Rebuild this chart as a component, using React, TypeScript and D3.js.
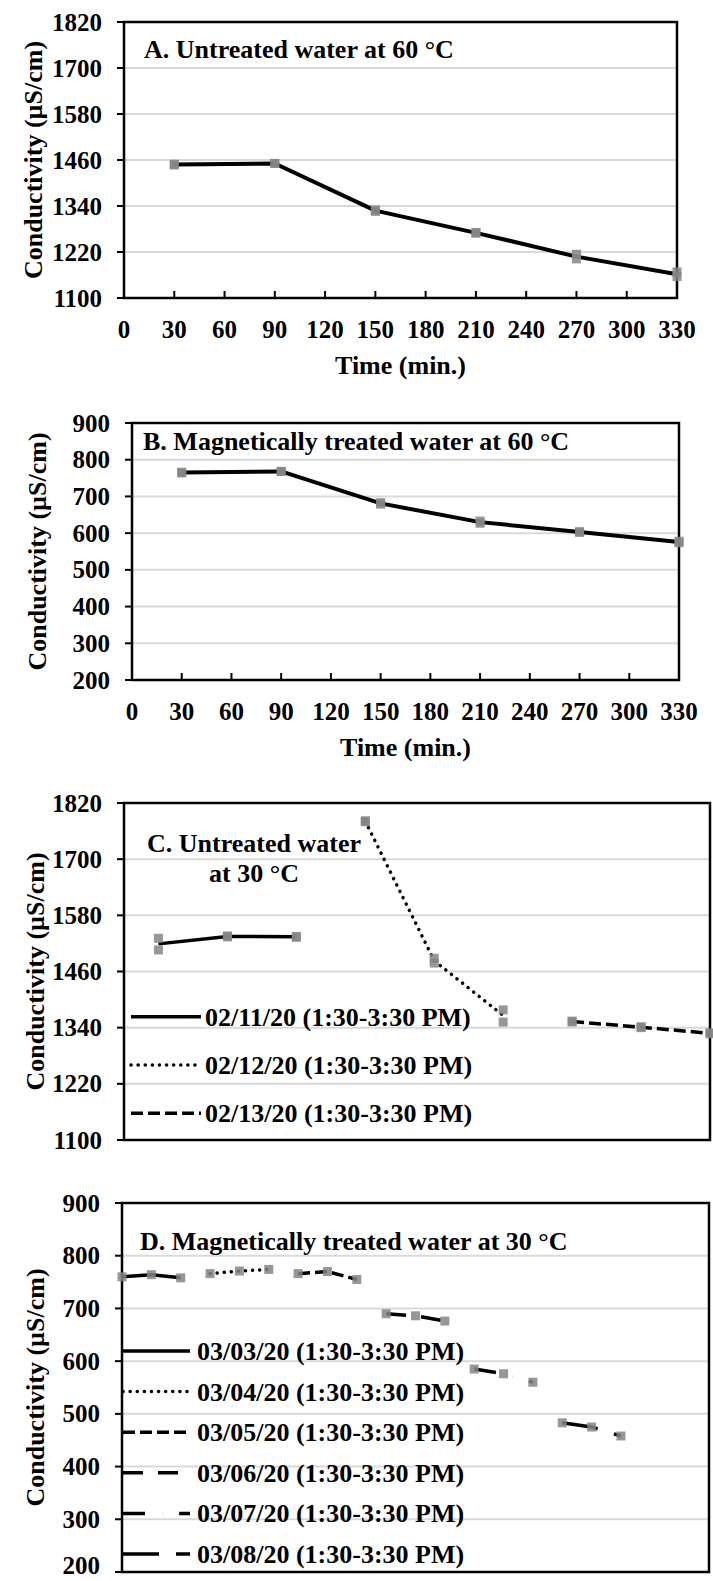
import React from 'react';
import * as d3 from 'd3';

const FONT = '"Liberation Serif","Times New Roman",Times,serif';
const FS = 26;
const TFS = 25;

// ---------- Panel A: untreated water at 60 °C ----------
const timeA = [30, 90, 150, 210, 270, 330];
const meanA = [1448, 1451, 1328, 1270, 1208, 1162];
const repA1 = [1447, 1451, 1326, 1271, 1214, 1168];
const repA2 = [1449, 1451, 1330, 1269, 1202, 1156];
const yTicksA = [1100, 1220, 1340, 1460, 1580, 1700, 1820];
const xTicksTime = [0, 30, 60, 90, 120, 150, 180, 210, 240, 270, 300, 330];

// ---------- Panel B: magnetically treated water at 60 °C ----------
const timeB = [30, 90, 150, 210, 270, 330];
const meanB = [765, 768, 681, 630, 603, 576];
const repB1 = [764, 768, 683, 633, 604, 578];
const repB2 = [766, 768, 679, 627, 602, 574];
const yTicksB = [200, 300, 400, 500, 600, 700, 800, 900];

// ---------- Panel C: untreated water at 30 °C ----------
const labelsC = ['02/11/20 (1:30-3:30 PM)', '02/12/20 (1:30-3:30 PM)', '02/13/20 (1:30-3:30 PM)'];
const idxC1 = [1, 2, 3];
const meanC1 = [1519, 1535, 1534];
const repC1a = [1531, 1536, 1535];
const repC1b = [1506, 1534, 1533];
const idxC2 = [4, 5, 6];
const meanC2 = [1781, 1483, 1366];
const repC2a = [1782, 1488, 1378];
const repC2b = [1780, 1478, 1352];
const idxC3 = [7, 8, 9];
const meanC3 = [1353, 1341, 1328];
const repC3a = [1354, 1342, 1329];
const repC3b = [1352, 1340, 1327];
const yTicksC = [1100, 1220, 1340, 1460, 1580, 1700, 1820];

// ---------- Panel D: magnetically treated water at 30 °C ----------
const labelsD = [
  '03/03/20 (1:30-3:30 PM)', '03/04/20 (1:30-3:30 PM)', '03/05/20 (1:30-3:30 PM)',
  '03/06/20 (1:30-3:30 PM)', '03/07/20 (1:30-3:30 PM)', '03/08/20 (1:30-3:30 PM)',
];
const idxD1 = [0, 1, 2];
const meanD1 = [760, 764, 758];
const idxD2 = [3, 4, 5];
const meanD2 = [766, 771, 774];
const idxD3 = [6, 7, 8];
const meanD3 = [766, 770, 755];
const idxD4 = [9, 10, 11];
const meanD4 = [690, 686, 676];
const idxD5 = [12, 13, 14];
const meanD5 = [585, 576, 560];
const idxD6 = [15, 16, 17];
const meanD6 = [483, 475, 458];
const yTicksD = [200, 300, 400, 500, 600, 700, 800, 900];

// line styles
const dashC = ['', '0.1,7', '12,5'];
const dashD = ['', '0.1,7', '12,5', '20,15', '22,17,0.1,17', '36,17'];

type Box = { x0: number; x1: number; y0: number; y1: number };

const GRID = '#d9d9d9';
const MARK = '#858585';
const H = 1581;

function Frame(props: {
  box: Box;
  y: d3.ScaleLinear<number, number>;
  yTicks: number[];
  x?: d3.ScaleLinear<number, number>;
  xTicks?: number[];
  ytitle: string;
  ytitleX: number;
  xtitle?: string;
}) {
  const { box, y, yTicks, x, xTicks, ytitle, ytitleX, xtitle } = props;
  const cy = (box.y0 + box.y1) / 2;
  return (
    <g>
      {yTicks.slice(1).map((t) => (
        <line key={'g' + t} x1={box.x0} x2={box.x1} y1={y(t)} y2={y(t)} stroke={GRID} strokeWidth={2} />
      ))}
      <rect x={box.x0} y={box.y0} width={box.x1 - box.x0} height={box.y1 - box.y0} fill="none" stroke="#000" strokeWidth={2.5} />
      {yTicks.map((t) => (
        <g key={'t' + t}>
          <line x1={box.x0 - 7} x2={box.x0} y1={y(t)} y2={y(t)} stroke="#000" strokeWidth={2} />
          <text x={box.x0 - 22} y={Math.min(y(t) + 8.5, H - 7)} textAnchor="end" fontSize={TFS} fontWeight="bold" fontFamily={FONT}>
            {t}
          </text>
        </g>
      ))}
      {x && xTicks && xTicks.map((t) => (
        <g key={'x' + t}>
          <line x1={x(t)} x2={x(t)} y1={box.y1 - 7} y2={box.y1} stroke="#000" strokeWidth={2} />
          <text x={x(t)} y={box.y1 + 40} textAnchor="middle" fontSize={TFS} fontWeight="bold" fontFamily={FONT}>
            {t}
          </text>
        </g>
      ))}
      {xtitle && (
        <text x={(box.x0 + box.x1) / 2} y={box.y1 + 76} textAnchor="middle" fontSize={FS} fontWeight="bold" fontFamily={FONT}>
          {xtitle}
        </text>
      )}
      <text transform={`translate(${ytitleX},${cy}) rotate(-90)`} textAnchor="middle" fontSize={FS} fontWeight="bold" fontFamily={FONT}>
        {ytitle}
      </text>
    </g>
  );
}

function Series(props: {
  xs: number[];
  ys: number[];
  reps: number[][];
  x: (v: number) => number;
  y: (v: number) => number;
  dash?: string;
  width?: number;
}) {
  const { xs, ys, reps, x, y, dash, width } = props;
  const pts: [number, number][] = xs.map((v, i) => [v, ys[i]]);
  const gen = d3.line<[number, number]>().x((d) => x(d[0])).y((d) => y(d[1]));
  const round = dash && dash.startsWith('0.1');
  return (
    <g>
      <path
        d={gen(pts) || ''}
        fill="none"
        stroke="#000"
        strokeWidth={width || 3.5}
        strokeDasharray={dash || undefined}
        strokeLinecap={round ? 'round' : 'butt'}
        strokeLinejoin="round"
      />
      {reps.map((r, k) =>
        r.map((v, i) => (
          <rect key={k + '-' + i} x={x(xs[i]) - 4.5} y={y(v) - 4.5} width={9} height={9} fill={MARK} opacity={0.85} />
        ))
      )}
    </g>
  );
}

function Legend(props: { labels: string[]; dashes: string[]; lx0: number; lx1: number; tx: number; ys: number[] }) {
  const { labels, dashes, lx0, lx1, tx, ys } = props;
  return (
    <g>
      {labels.map((lab, i) => (
        <g key={lab}>
          <line
            x1={lx0}
            x2={lx1}
            y1={ys[i]}
            y2={ys[i]}
            stroke="#000"
            strokeWidth={3.5}
            strokeDasharray={dashes[i] || undefined}
            strokeLinecap={dashes[i].startsWith('0.1') ? 'round' : 'butt'}
          />
          <text x={tx} y={ys[i] + 9} fontSize={FS} fontWeight="bold" fontFamily={FONT}>
            {lab}
          </text>
        </g>
      ))}
    </g>
  );
}

export default function App() {
  const W = 713;

  const boxA: Box = { x0: 124, x1: 677, y0: 22, y1: 298 };
  const boxB: Box = { x0: 132, x1: 679, y0: 423, y1: 680 };
  const boxC: Box = { x0: 124, x1: 710, y0: 803, y1: 1140 };
  const boxD: Box = { x0: 122, x1: 709, y0: 1203, y1: 1572 };

  const xA = d3.scaleLinear().domain([0, 330]).range([boxA.x0, boxA.x1]);
  const yA = d3.scaleLinear().domain([1100, 1820]).range([boxA.y1, boxA.y0]);
  const xB = d3.scaleLinear().domain([0, 330]).range([boxB.x0, boxB.x1]);
  const yB = d3.scaleLinear().domain([200, 900]).range([boxB.y1, boxB.y0]);
  const xC = d3.scaleLinear().domain([0.5, 9]).range([boxC.x0, boxC.x1]);
  const yC = d3.scaleLinear().domain([1100, 1820]).range([boxC.y1, boxC.y0]);
  const xD = d3.scaleLinear().domain([0, 20]).range([boxD.x0, boxD.x1]);
  const yD = d3.scaleLinear().domain([200, 900]).range([boxD.y1, boxD.y0]);

  const ytitle = 'Conductivity (µS/cm)';
  const legYC = [1016.7, 1065, 1113.3];
  const legYD = labelsD.map((_, i) => 1351 + i * 40.6);

  return (
    <svg width={W} height={H} viewBox={`0 0 ${W} ${H}`} style={{ position: 'absolute', left: 0, top: 0, background: '#fff' }}>
      <rect x={0} y={0} width={W} height={H} fill="#fff" />

      {/* Panel A */}
      <Frame box={boxA} y={yA} yTicks={yTicksA} x={xA} xTicks={xTicksTime} ytitle={ytitle} ytitleX={42} xtitle="Time (min.)" />
      <text x={144} y={58} fontSize={FS} fontWeight="bold" fontFamily={FONT}>A. Untreated water at 60 °C</text>
      <Series xs={timeA} ys={meanA} reps={[repA1, repA2]} x={xA} y={yA} width={4} />

      {/* Panel B */}
      <Frame box={boxB} y={yB} yTicks={yTicksB} x={xB} xTicks={xTicksTime} ytitle={ytitle} ytitleX={46} xtitle="Time (min.)" />
      <text x={143} y={450} fontSize={FS} fontWeight="bold" fontFamily={FONT}>B. Magnetically treated water at 60 °C</text>
      <Series xs={timeB} ys={meanB} reps={[repB1, repB2]} x={xB} y={yB} width={4} />

      {/* Panel C */}
      <Frame box={boxC} y={yC} yTicks={yTicksC} ytitle={ytitle} ytitleX={44} />
      <text x={254} y={852} textAnchor="middle" fontSize={FS} fontWeight="bold" fontFamily={FONT}>C. Untreated water</text>
      <text x={254} y={882} textAnchor="middle" fontSize={FS} fontWeight="bold" fontFamily={FONT}>at 30 °C</text>
      <Series xs={idxC1} ys={meanC1} reps={[repC1a, repC1b]} x={xC} y={yC} dash={dashC[0]} />
      <Series xs={idxC2} ys={meanC2} reps={[repC2a, repC2b]} x={xC} y={yC} dash={dashC[1]} />
      <Series xs={idxC3} ys={meanC3} reps={[repC3a, repC3b]} x={xC} y={yC} dash={dashC[2]} />
      <Legend labels={labelsC} dashes={dashC} lx0={131} lx1={201} tx={205} ys={legYC} />

      {/* Panel D */}
      <Frame box={boxD} y={yD} yTicks={yTicksD} ytitle={ytitle} ytitleX={44} />
      <text x={140} y={1250} fontSize={FS} fontWeight="bold" fontFamily={FONT}>D. Magnetically treated water at 30 °C</text>
      <Series xs={idxD1} ys={meanD1} reps={[meanD1]} x={xD} y={yD} dash={dashD[0]} />
      <Series xs={idxD2} ys={meanD2} reps={[meanD2]} x={xD} y={yD} dash={dashD[1]} />
      <Series xs={idxD3} ys={meanD3} reps={[meanD3]} x={xD} y={yD} dash={dashD[2]} />
      <Series xs={idxD4} ys={meanD4} reps={[meanD4]} x={xD} y={yD} dash={dashD[3]} />
      <Series xs={idxD5} ys={meanD5} reps={[meanD5]} x={xD} y={yD} dash={dashD[4]} />
      <Series xs={idxD6} ys={meanD6} reps={[meanD6]} x={xD} y={yD} dash={dashD[5]} />
      <Legend labels={labelsD} dashes={dashD} lx0={123} lx1={190} tx={197} ys={legYD} />
    </svg>
  );
}
